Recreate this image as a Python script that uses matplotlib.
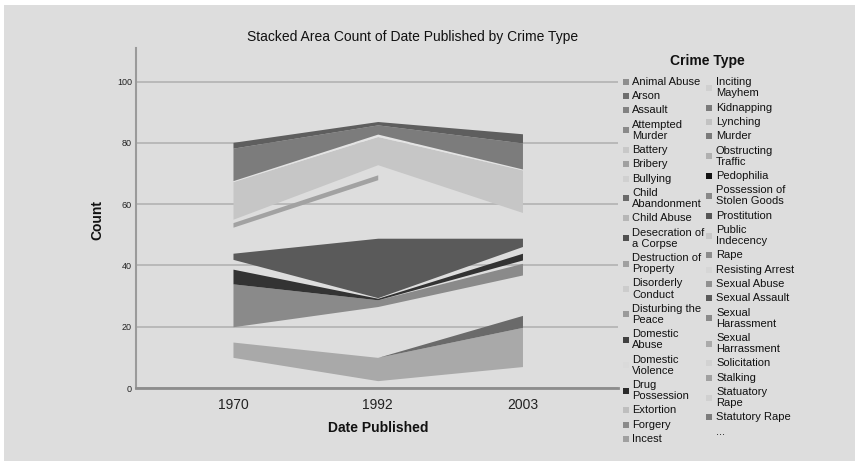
import numpy as np
import matplotlib.pyplot as plt
from matplotlib.patches import Rectangle

plt.rcParams['font.family'] = ['Liberation Sans', 'DejaVu Sans']

# --- data ------------------------------------------------------------------
years = ['1970', '1992', '2003']

# stack order, bottom to top; None colour = band that shows as background
layer_names = ['Domestic Violence', 'Stalking', 'Sexual Assault', 'Solicitation',
               'Assault', 'Resisting Arrest', 'Drug Possession', 'Bullying',
               'Desecration of a Corpse', 'Inciting Mayhem', 'Bribery',
               'Statuatory Rape', 'Lynching', 'Public Indecency', 'Kidnapping',
               'Prostitution']
layer_values = [
    [10.0, 2.4, 7.0],
    [5.0, 7.6, 12.8],
    [0.0, 0.0, 3.9],
    [5.0, 16.6, 13.2],
    [14.0, 2.2, 3.8],
    [0.0, 0.0, 1.1],
    [4.8, 0.5, 2.2],
    [3.2, 0.2, 2.2],
    [2.0, 19.4, 2.7],
    [8.5, 19.1, 8.4],
    [1.5, 1.6, np.nan],
    [1.1, 3.3, 0.0],
    [12.3, 9.2, 13.9],
    [0.3, 0.8, 0.3],
    [10.6, 3.0, 8.5],
    [1.9, 1.1, 3.0],
]
layer_colors = [None, '#a9a9a9', '#6a6a6a', None, '#8a8a8a', None, '#333333',
                None, '#5a5a5a', None, '#a2a2a2', None, '#c6c6c6', '#e4e4e4',
                '#7c7c7c', '#5e5e5e']

legend_left = ['Animal Abuse', 'Arson', 'Assault', 'Attempted\nMurder', 'Battery',
               'Bribery', 'Bullying', 'Child\nAbandonment', 'Child Abuse',
               'Desecration of\na Corpse', 'Destruction of\nProperty',
               'Disorderly\nConduct', 'Disturbing the\nPeace', 'Domestic\nAbuse',
               'Domestic\nViolence', 'Drug\nPossession', 'Extortion', 'Forgery',
               'Incest']
legend_left_colors = ['#8e8e8e', '#6e6e6e', '#828282', '#8a8a8a', '#c8c8c8',
                      '#a0a0a0', '#d0d0d0', '#6a6a6a', '#b6b6b6', '#505050',
                      '#a0a0a0', '#cccccc', '#9a9a9a', '#404040', '#dadada',
                      '#2a2a2a', '#bebebe', '#8a8a8a', '#a0a0a0']
legend_right = ['Inciting\nMayhem', 'Kidnapping', 'Lynching', 'Murder',
                'Obstructing\nTraffic', 'Pedophilia', 'Possession of\nStolen Goods',
                'Prostitution', 'Public\nIndecency', 'Rape', 'Resisting Arrest',
                'Sexual Abuse', 'Sexual Assault', 'Sexual\nHarassment',
                'Sexual\nHarrassment', 'Solicitation', 'Stalking',
                'Statuatory\nRape', 'Statutory Rape', '...']
legend_right_colors = ['#d0d0d0', '#7a7a7a', '#c2c2c2', '#7a7a7a', '#b0b0b0',
                       '#111111', '#888888', '#555555', '#c8c8c8', '#8c8c8c',
                       '#d6d6d6', '#909090', '#5a5a5a', '#8a8a8a', '#aaaaaa',
                       '#d2d2d2', '#a0a0a0', '#d0d0d0', '#7c7c7c', None]

panel = '#dddddd'
W, H = 859, 466

fig = plt.figure(figsize=(W / 100, H / 100), dpi=100, facecolor='white')

# background panel + overlay for free text, in pixel coordinates
bg = fig.add_axes([0, 0, 1, 1], zorder=-1)
bg.set_xlim(0, W)
bg.set_ylim(H, 0)
bg.axis('off')
bg.add_patch(Rectangle((4, 5), 851, 456, color=panel, lw=0))

ax = fig.add_axes([136 / W, 1 - 388 / H, (618 - 136) / W, (388 - 48) / H])
ax.set_facecolor('none')

x = np.arange(len(years))
base = np.zeros(len(years))
for name, vals, col in zip(layer_names, layer_values, layer_colors):
    v = np.array(vals, dtype=float)
    top = base + np.nan_to_num(v)
    if col is not None:
        yb = np.where(np.isnan(v), np.nan, base)
        yt = np.where(np.isnan(v), np.nan, top)
        ax.fill_between(x, yb, yt, color=col, lw=0, zorder=3)
    base = top

ax.set_xlim(-0.67, 2.66)
ax.set_ylim(0, 111)
ax.set_xticks(x)
ax.set_xticklabels(years, fontsize=10, color='#222222')
ax.set_yticks([0, 20, 40, 60, 80, 100])
ax.tick_params(axis='y', length=0, pad=3, labelsize=6.5, labelcolor='#222222')
ax.tick_params(axis='x', length=0, pad=7)
ax.yaxis.grid(True, color='#b2b2b2', lw=1.2, zorder=1)
ax.set_axisbelow(True)
for s in ['top', 'right']:
    ax.spines[s].set_visible(False)
ax.spines['bottom'].set_color('#8c8c8c')
ax.spines['bottom'].set_linewidth(2)
ax.spines['left'].set_color('#9a9a9a')
ax.spines['left'].set_linewidth(1.5)

bg.text(413, 37, 'Stacked Area Count of Date Published by Crime Type',
        ha='center', va='center', fontsize=10, color='#111111')
bg.text(97, 220, 'Count', rotation=90, ha='center', va='center',
        fontsize=10, fontweight='bold', color='#111111')
bg.text(378, 428, 'Date Published', ha='center', va='center',
        fontsize=10, fontweight='bold', color='#111111')
bg.text(707, 61, 'Crime Type', ha='center', va='center',
        fontsize=10, fontweight='bold', color='#111111')

# legend, two independent columns
line_h, gap = 11.1, 3.2
for labels, colors, sq_x, tx, y0 in [
        (legend_left, legend_left_colors, 626, 632, 81.7),
        (legend_right, legend_right_colors, 709, 716, 82.3)]:
    y = y0
    for lab, col in zip(labels, colors):
        lines = lab.split('\n')
        for i, ln in enumerate(lines):
            bg.text(tx, y + i * line_h, ln, ha='left', va='center',
                    fontsize=8, color='#111111')
        if col is not None:
            yc = y + (len(lines) - 1) * line_h / 2
            bg.add_patch(Rectangle((sq_x - 3, yc - 3), 6, 6, color=col, lw=0))
        y += len(lines) * line_h + gap

fig.savefig('out.png', dpi=100, facecolor='white')
